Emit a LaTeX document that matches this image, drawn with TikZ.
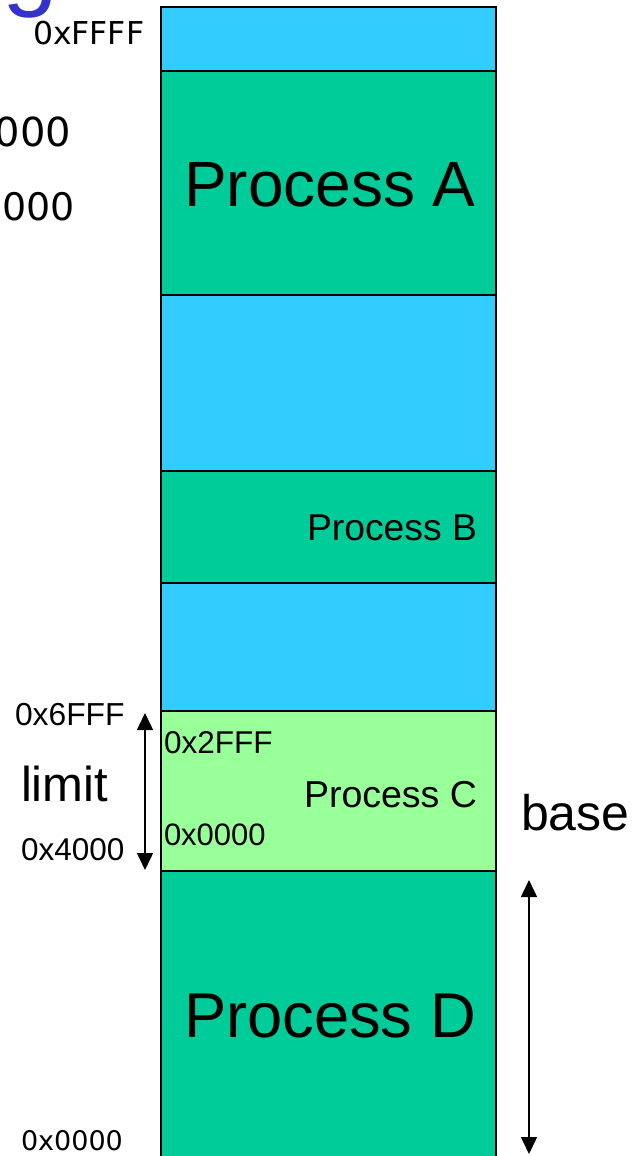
\documentclass[tikz,border=0pt]{standalone}
\usepackage{fontspec}
\setmainfont{Liberation Sans}
\newfontfamily\hexfont{DejaVu Sans}
\usetikzlibrary{arrows.meta}

\definecolor{freeblue}{HTML}{33CCFF}
\definecolor{procgreen}{HTML}{00CC99}
\definecolor{curgreen}{HTML}{99FF99}
\definecolor{titleblue}{HTML}{3333CC}

\newcommand{\fsz}[1]{\fontsize{#1}{#1}\selectfont}

\begin{document}
\begin{tikzpicture}[
    x = 1pt,
    y = -1pt,
    >={Triangle[length=17pt, width=16pt]},
    region/.style = {draw=black, line width=2.5pt, anchor=north west,
              minimum width=335pt, inner sep=0pt, outer sep=0pt},
    hole/.style = {region, fill=freeblue},
    proc/.style = {region, fill=procgreen},
    txt/.style = {inner sep=0pt, outer sep=0pt, anchor=base west},
    ]

\useasboundingbox (0,0) rectangle (641,1156);

% memory column
\node[hole, minimum height=64pt] (hole_1) at (161,7){};
\node[proc, minimum height=224pt] (proc_a) at (161,71){};
\node[hole, minimum height=176pt] (hole_2) at (161,295){};
\node[proc, minimum height=112pt] (proc_b) at (161,471){};
\node[hole, minimum height=128pt] (hole_3) at (161,583){};
\node[region, fill=curgreen, minimum height=160pt] (proc_c) at (161,711){};
\node[proc, minimum height=310pt] (proc_d) at (161,871){};

\node[txt, font=\fsz{64}] (name_a) at (184,206) {Process A};
\node[txt, font=\fsz{37.3}] (name_b) at (307,540) {Process B};
\node[txt, font=\fsz{37.5}] (name_c) at (304,807) {Process C};
\node[txt, font=\fsz{63.3}] (name_d) at (184,1037) {Process D};

% addresses
\node[txt, font=\hexfont\fsz{31.5}] (addr_top) at (33,45) {0xFFFF};
\node[txt, font=\hexfont\fsz{27}] (addr_bot) at (21,1150) {0x0000};
\node[txt, font=\hexfont\fsz{40}, anchor=base east] (cut_1) at (71,146) {000};
\node[txt, font=\hexfont\fsz{38}, anchor=base east] (cut_2) at (75,220) {3000};
\node[txt, font=\fsz{31.8}] (addr_hi) at (15,725) {0x6FFF};
\node[txt, font=\fsz{31.5}] (addr_lo) at (21,860) {0x4000};
\node[txt, font=\fsz{31.5}] (off_hi) at (164,753) {0x2FFF};
\node[txt, font=\fsz{31}] (off_lo) at (164,845) {0x0000};
\node[txt, font=\fsz{100}, text=titleblue] (title) at (2,-2) {g};

% limit and base
\node[txt, font=\fsz{49}] (limit) at (21,801) {limit};
\node[txt, font=\fsz{50}] (base) at (521,830) {base};
\coordinate (lim_top) at (145,713);
\coordinate (lim_bot) at (145,870);
\coordinate (base_top) at (529,880);
\coordinate (base_bot) at (529,1154);
\draw [<->, black, line width=1.5pt] (lim_top) -- (lim_bot);
\draw [<->, black, line width=1.5pt] (base_top) -- (base_bot);

\end{tikzpicture}
\end{document}
